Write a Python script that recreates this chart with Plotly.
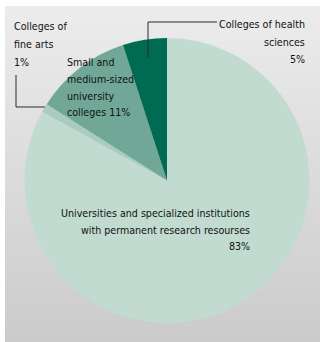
import plotly.graph_objects as go

# Shares of institutions by type, listed clockwise from 12 o'clock
categories = [
    "Universities and specialized institutions with permanent research resourses",
    "Colleges of fine arts",
    "Small and medium-sized university colleges",
    "Colleges of health sciences",
]
shares = [83, 1, 11, 5]
slice_colors = ["#c2dbd0", "#a8ccbf", "#70a797", "#006b52"]

# Label text lines (percent appended from the shares)
label_lines = [
    ["Universities and specialized institutions", "with permanent research resourses", "{}%"],
    ["Colleges of", "fine arts", "{}%"],
    ["Small and", "medium-sized", "university", "colleges {}%"],
    ["Colleges of health", "sciences", "{}%"],
]

W, H = 320, 342
FONT = "DejaVu Sans Condensed, DejaVu Sans, sans-serif"


def px(x):
    return x / W


def py(y):
    return 1 - y / H


fig = go.Figure()

# Pie: centre (167, 180.5), radius 142.5 px
cx, cy, r = 167, 180.5, 142.5
fig.add_trace(go.Pie(
    labels=categories,
    values=shares,
    sort=False,
    direction="clockwise",
    rotation=0,
    marker=dict(colors=slice_colors, line=dict(width=0)),
    textinfo="none",
    hoverinfo="label+percent",
    showlegend=False,
    domain=dict(x=[px(cx - r), px(cx + r)], y=[py(cy + r), py(cy - r)]),
))

shapes = []
# Vertical grey gradient panel
top_c, bot_c = (236, 236, 236), (203, 203, 203)
y0, y1, x0 = 6, H, 5
n = 84
for i in range(n):
    t = i / (n - 1)
    c = tuple(round(a + (b - a) * t) for a, b in zip(top_c, bot_c))
    ya = y0 + (y1 - y0) * i / n
    yb = y0 + (y1 - y0) * (i + 1) / n + 0.6
    shapes.append(dict(type="rect", xref="paper", yref="paper", layer="below",
                       x0=px(x0), x1=1, y0=py(min(yb, H)), y1=py(ya),
                       fillcolor="rgb(%d,%d,%d)" % c, line=dict(width=0)))

# Leader lines
leaders = [
    [(148, 58), (148, 22), (217, 22)],
    [(16, 75), (16, 107), (45, 107)],
]
for pts in leaders:
    path = "M " + " L ".join("%f,%f" % (px(x), py(y)) for x, y in pts)
    shapes.append(dict(type="path", xref="paper", yref="paper", path=path,
                       line=dict(color="#2a2a2a", width=1)))

# Label placement: (anchor x, first line y, line spacing, x anchor)
placement = [
    (252, 213, 16.5, "right"),
    (12, 26, 18, "left"),
    (65, 62, 16.8, "left"),
    (307, 24, 17.5, "right"),
]
annotations = []
for lines, val, (ax, ay, dy, anchor) in zip(label_lines, shares, placement):
    for k, line in enumerate(lines):
        annotations.append(dict(
            x=px(ax), y=py(ay + k * dy), xref="paper", yref="paper",
            text=line.format(val) if "{}" in line else line,
            showarrow=False, xanchor=anchor, yanchor="middle",
            font=dict(family=FONT, size=10.6, color="#111111"),
        ))

fig.update_layout(
    width=W, height=H,
    margin=dict(l=0, r=0, t=0, b=0),
    paper_bgcolor="white",
    plot_bgcolor="white",
    shapes=shapes,
    annotations=annotations,
)

fig.write_html("out.html")
